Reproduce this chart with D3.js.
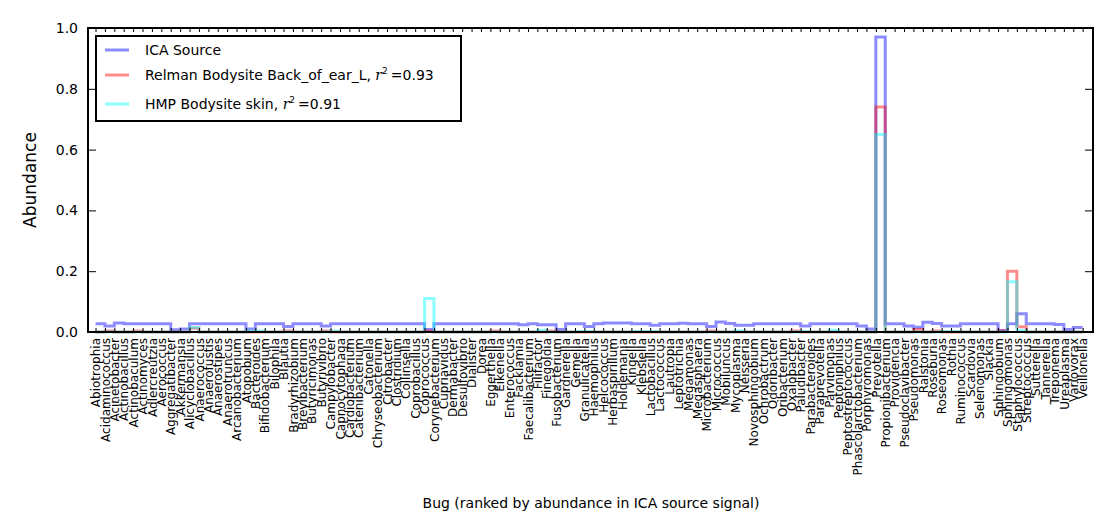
<!DOCTYPE html>
<html><head><meta charset="utf-8">
<script src="https://cdn.jsdelivr.net/npm/d3@7"></script>
<style>body{margin:0;background:#fff;font-family:"DejaVu Sans",sans-serif}</style>
</head><body><div class="chart"></div>
<script>
var bugs = ["Abiotrophia","Acidaminococcus","Acinetobacter","Actinobacillus","Actinobaculum","Actinomyces","Adlercreutzia","Aerococcus","Aggregatibacter","Akkermansia","Alicyclobacillus","Anaerococcus","Anaerofustis","Anaerostipes","Anaerotruncus","Arcanobacterium","Atopobium","Bacteroides","Bifidobacterium","Bilophila","Blautia","Bradyrhizobium","Brevibacterium","Butyricimonas","Butyrivibrio","Campylobacter","Capnocytophaga","Cardiobacterium","Catenibacterium","Catonella","Chryseobacterium","Citrobacter","Clostridium","Collinsella","Coprobacillus","Coprococcus","Corynebacterium","Cupriavidus","Dermabacter","Desulfovibrio","Dialister","Dorea","Eggerthella","Eikenella","Enterococcus","Facklamia","Faecalibacterium","Filifactor","Finegoldia","Fusobacterium","Gardnerella","Gemella","Granulicatella","Haemophilus","Helcococcus","Herbaspirillum","Holdemania","Kingella","Klebsiella","Lactobacillus","Lactococcus","Lautropia","Leptotrichia","Megamonas","Megasphaera","Microbacterium","Micrococcus","Mobiluncus","Mycoplasma","Neisseria","Novosphingobium","Ochrobactrum","Odoribacter","Oribacterium","Oxalobacter","Paludibacter","Parabacteroides","Paraprevotella","Parvimonas","Peptoniphilus","Peptostreptococcus","Phascolarctobacterium","Porphyromonas","Prevotella","Propionibacterium","Providencia","Pseudoclavibacter","Pseudomonas","Ralstonia","Roseburia","Roseomonas","Rothia","Ruminococcus","Scardovia","Selenomonas","Slackia","Sphingobium","Sphingomonas","Staphylococcus","Streptococcus","Sutterella","Tannerella","Treponema","Ureaplasma","Variovorax","Veillonella"];

var icaSource = [0.027,0.02,0.03,0.027,0.027,0.027,0.027,0.027,0.007,0.01,
  0.027,0.027,0.027,0.027,0.027,0.027,0.01,0.027,0.027,0.027,
  0.018,0.027,0.027,0.027,0.02,0.027,0.027,0.027,0.027,0.027,
  0.027,0.027,0.027,0.027,0.027,0.008,0.027,0.027,0.027,0.027,
  0.027,0.027,0.027,0.027,0.027,0.024,0.027,0.024,0.024,0.008,
  0.027,0.027,0.018,0.027,0.03,0.03,0.03,0.027,0.027,0.022,
  0.027,0.027,0.029,0.027,0.027,0.018,0.033,0.028,0.022,0.022,
  0.027,0.027,0.027,0.027,0.027,0.02,0.027,0.027,0.027,0.027,
  0.027,0.02,0.01,0.97,0.027,0.027,0.02,0.016,0.032,0.028,
  0.02,0.02,0.027,0.027,0.027,0.027,0.005,0.027,0.06,0.027,
  0.027,0.027,0.025,0.008,0.015,0.015];

var relman = new Array(bugs.length).fill(0);
var hmp = new Array(bugs.length).fill(0);
var relmanBumps = [[1,0.003],[4,0.003],[10,0.012],[20,0.003],[24,0.003],[35,0.003],[42,0.003],[48,0.003],[65,0.003],[74,0.003],[83,0.74],[87,0.008],[89,0.003],[96,0.004],[97,0.2],[98,0.017]];
var hmpBumps = [[10,0.015],[16,0.003],[17,0.003],[25,0.003],[35,0.11],[47,0.006],[51,0.002],[52,0.002],[57,0.002],[58,0.002],[59,0.002],[68,0.003],[75,0.002],[78,0.006],[83,0.65],[90,0.002],[91,0.002],[97,0.165],[98,0.005]];
relmanBumps.forEach(function(b){ relman[b[0]] = b[1]; });
hmpBumps.forEach(function(b){ hmp[b[0]] = b[1]; });

var yTicks = [0.0,0.2,0.4,0.6,0.8,1.0];

var svgWidth = 1114, svgHeight = 532;
var margin = {top: 28, bottom: 200, left: 88, right: 21};
var width = svgWidth - margin.left - margin.right;
var height = svgHeight - margin.top - margin.bottom;

var svg = d3.select(".chart").append("svg")
  .attr("width", svgWidth).attr("height", svgHeight);
var g = svg.append("g").attr("transform", `translate(${margin.left}, ${margin.top})`);

var x = d3.scaleLinear().domain([-0.8, 106.1]).range([0, width]);
var y = d3.scaleLinear().domain([0, 1]).range([height, 0]);

var line = d3.line().x(function(d, i){ return x(i); }).y(function(d){ return y(d); }).curve(d3.curveStepAfter);

var series = [
  {name: "ICA Source", values: icaSource, color: "rgba(0,0,255,0.45)"},
  {name: "Relman", values: relman, color: "rgba(255,0,0,0.45)"},
  {name: "HMP", values: hmp, color: "rgba(0,255,255,0.45)"}
];
series.forEach(function(s){
  g.append("path").datum(s.values).attr("d", line)
    .attr("fill", "none").attr("stroke", s.color).attr("stroke-width", 3);
});

// axes with inward ticks on all sides
var idx = d3.range(bugs.length);
g.append("g").attr("transform", `translate(0, ${height})`)
  .call(d3.axisBottom(x).tickValues(idx).tickSize(-4).tickFormat(function(i){ return bugs[i]; }))
  .call(function(a){
    a.select(".domain").remove();
    a.selectAll("text").attr("font-size", "12px").attr("font-family", "DejaVu Sans")
      .attr("transform", "rotate(-90)").attr("text-anchor", "end")
      .attr("x", -6).attr("y", 0).attr("dy", "0.35em");
  });
g.append("g").call(d3.axisTop(x).tickValues(idx).tickSize(-4).tickFormat(""))
  .call(function(a){ a.select(".domain").remove(); });
g.append("g")
  .call(d3.axisLeft(y).tickValues(yTicks).tickSize(-8).tickPadding(10).tickFormat(d3.format(".1f")))
  .call(function(a){
    a.select(".domain").remove();
    a.selectAll("text").attr("font-size", "14px").attr("font-family", "DejaVu Sans");
  });
g.append("g").attr("transform", `translate(${width}, 0)`)
  .call(d3.axisRight(y).tickValues(yTicks).tickSize(-8).tickFormat(""))
  .call(function(a){ a.select(".domain").remove(); });

g.append("rect").attr("width", width).attr("height", height)
  .attr("fill", "none").attr("stroke", "#000").attr("stroke-width", 2);

svg.append("text").attr("x", 591).attr("y", 508).attr("text-anchor", "middle")
  .attr("font-size", "14px").text("Bug (ranked by abundance in ICA source signal)");
svg.append("text").attr("transform", "translate(36, 180) rotate(-90)")
  .attr("text-anchor", "middle").attr("font-size", "17px").text("Abundance");

// legend
var leg = svg.append("g").attr("transform", "translate(96, 36)");
leg.append("rect").attr("width", 365).attr("height", 85)
  .attr("fill", "#fff").attr("stroke", "#000").attr("stroke-width", 2);
var legItems = [
  {color: series[0].color, pre: "ICA Source", r2: null, y: 14},
  {color: series[1].color, pre: "Relman Bodysite Back_of_ear_L, ", r2: "0.93", y: 39},
  {color: series[2].color, pre: "HMP Bodysite skin, ", r2: "0.91", y: 68}
];
legItems.forEach(function(it){
  leg.append("line").attr("x1", 9).attr("x2", 33).attr("y1", it.y).attr("y2", it.y)
    .attr("stroke", it.color).attr("stroke-width", 3);
  var t = leg.append("text").attr("x", 49).attr("y", it.y + 5).attr("font-size", "14px");
  t.append("tspan").text(it.pre);
  if (it.r2) {
    t.append("tspan").attr("font-family", "DejaVu Serif").attr("font-style", "italic").text("r");
    t.append("tspan").attr("font-size", "9px").attr("dy", -6).text("2");
    t.append("tspan").attr("dy", 6).attr("dx", 3).text("=" + it.r2);
  }
});
</script></body></html>
